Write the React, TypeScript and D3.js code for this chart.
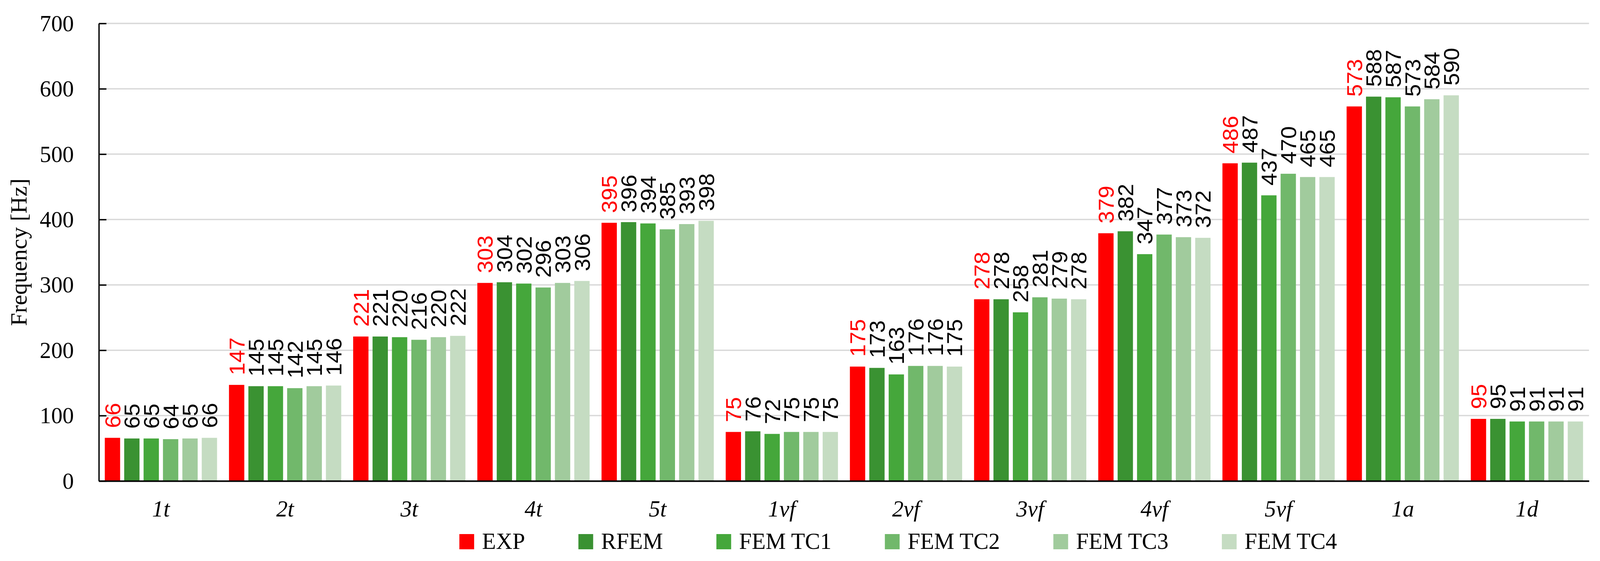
import React, { useEffect, useRef } from 'react';
import * as d3 from 'd3';

const categories = ['1t', '2t', '3t', '4t', '5t', '1vf', '2vf', '3vf', '4vf', '5vf', '1a', '1d'];
const seriesNames = ['EXP', 'RFEM', 'FEM TC1', 'FEM TC2', 'FEM TC3', 'FEM TC4'];

const expVals = [66, 147, 221, 303, 395, 75, 175, 278, 379, 486, 573, 95];
const rfemVals = [65, 145, 221, 304, 396, 76, 173, 278, 382, 487, 588, 95];
const tc1Vals = [65, 145, 220, 302, 394, 72, 163, 258, 347, 437, 587, 91];
const tc2Vals = [64, 142, 216, 296, 385, 75, 176, 281, 377, 470, 573, 91];
const tc3Vals = [65, 145, 220, 303, 393, 75, 176, 279, 373, 465, 584, 91];
const tc4Vals = [66, 146, 222, 306, 398, 75, 175, 278, 372, 465, 590, 91];

const seriesValues = [expVals, rfemVals, tc1Vals, tc2Vals, tc3Vals, tc4Vals];
const yTicks = [0, 100, 200, 300, 400, 500, 600, 700];

const colors = ['#ff0000', '#3a9232', '#45a73b', '#71b86b', '#a1cb9d', '#c5dcc2'];
const serif = "'Palatino Linotype', 'Book Antiqua', Palatino, 'Liberation Serif', serif";
const sans = "Arial, 'Liberation Sans', sans-serif";

export default function App() {
  const ref = useRef<SVGSVGElement>(null);
  const width = 4225;
  const height = 1437;

  useEffect(() => {
    document.body.style.margin = '0';
    document.body.style.overflow = 'hidden';
    if (!ref.current) return;
    const svg = d3.select(ref.current);
    svg.selectAll('*').remove();

    const margin = { top: 60, right: 29, bottom: 205, left: 261 };
    const x = d3.scaleBand().domain(categories).range([margin.left, width - margin.right]);
    const inner = d3.scaleBand().domain(seriesNames)
      .range([x.bandwidth() * 0.048, x.bandwidth() * 0.952]).paddingInner(0.21);
    const y = d3.scaleLinear().domain([0, 700]).range([height - margin.bottom, margin.top]);

    svg.append('rect').attr('width', width).attr('height', height).attr('fill', '#fff');

    // gridlines
    svg.append('g').selectAll('line').data(yTicks.filter(d => d > 0)).enter().append('line')
      .attr('x1', margin.left).attr('x2', width - margin.right)
      .attr('y1', d => y(d)).attr('y2', d => y(d))
      .attr('stroke', '#d9d9d9').attr('stroke-width', 3.5);

    // bars + rotated value labels
    const groups = svg.append('g').selectAll('g').data(categories).enter().append('g')
      .attr('transform', d => `translate(${x(d)},0)`);

    groups.each(function (cat, i) {
      const g = d3.select(this);
      const rows = seriesNames.map((s, j) => ({ s, j, v: seriesValues[j][i] }));
      g.selectAll('rect').data(rows).enter().append('rect')
        .attr('x', d => inner(d.s)!).attr('width', inner.bandwidth())
        .attr('y', d => y(d.v)).attr('height', d => y(0) - y(d.v))
        .attr('fill', d => colors[d.j]);
      g.selectAll('text').data(rows).enter().append('text')
        .attr('transform', d => `translate(${inner(d.s)! + inner.bandwidth() / 2 + 20.5},${y(d.v) - 25}) rotate(-90)`)
        .attr('font-family', sans).attr('font-size', 58)
        .attr('fill', d => (d.j === 0 ? '#ff0000' : '#000'))
        .text(d => d.v);
    });

    // y axis
    const yAxis = svg.append('g').attr('transform', `translate(${margin.left},0)`)
      .call(d3.axisLeft(y).tickValues(yTicks).tickSizeInner(-20).tickSizeOuter(0).tickPadding(66));
    yAxis.select('.domain').attr('stroke', '#000').attr('stroke-width', 3.5);
    yAxis.selectAll('.tick line').attr('stroke', '#000').attr('stroke-width', 3.5);
    yAxis.selectAll('.tick text').attr('font-family', serif).attr('font-size', 60).attr('fill', '#000');

    // x axis
    const xAxis = svg.append('g').attr('transform', `translate(0,${y(0)})`)
      .call(d3.axisBottom(x).tickSizeInner(0).tickSizeOuter(0).tickPadding(48));
    xAxis.select('.domain').attr('stroke', '#000').attr('stroke-width', 4);
    xAxis.selectAll('.tick text').attr('font-family', serif).attr('font-size', 60)
      .attr('font-style', 'italic').attr('fill', '#000');

    // y label
    svg.append('text')
      .attr('transform', `translate(70,${(y(0) + y(700)) / 2}) rotate(-90)`)
      .attr('text-anchor', 'middle').attr('font-family', serif).attr('font-size', 60)
      .text('Frequency [Hz]');

    // legend
    const legend = svg.append('g');
    let lx = 1213;
    seriesNames.forEach((name, j) => {
      legend.append('rect').attr('x', lx).attr('y', 1368).attr('width', 39).attr('height', 39)
        .attr('fill', colors[j]);
      const t = legend.append('text').attr('x', lx + 60).attr('y', 1406)
        .attr('font-family', serif).attr('font-size', 60).text(name);
      const w = (t.node() as SVGTextElement).getComputedTextLength();
      lx += 60 + w + 141;
    });
  }, []);

  return (
    <svg
      ref={ref}
      viewBox={`0 0 ${width} ${height}`}
      preserveAspectRatio="none"
      style={{ position: 'fixed', left: 0, top: 0, width: '100vw', height: '100vh', display: 'block' }}
    />
  );
}
